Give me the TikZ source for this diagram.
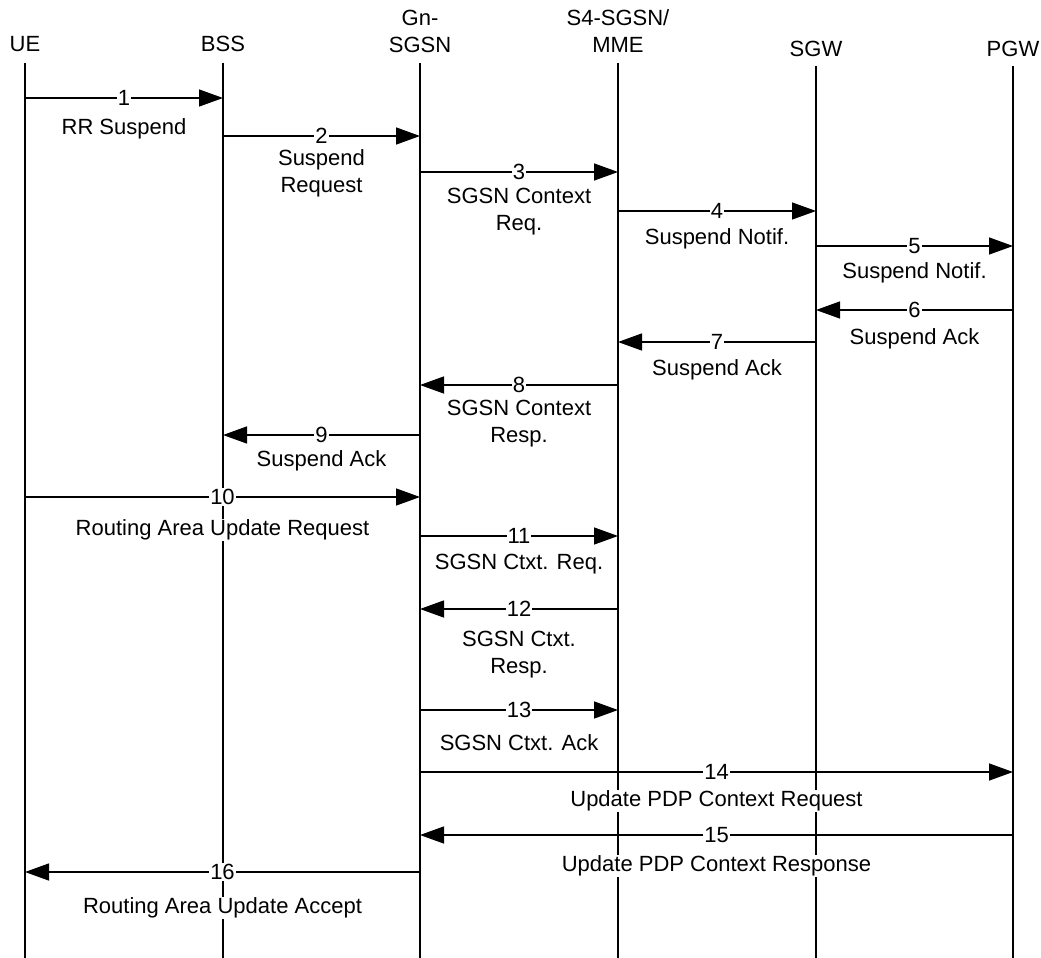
\documentclass[tikz,border=0pt]{standalone}
\usepackage{fontspec}
\setmainfont{Liberation Sans}
\usetikzlibrary{arrows.meta,calc}
\newcommand\sqmsg[6]{%
  \draw[msgline] (#1 |- 0,#3) -- (#2 |- 0,#3) node[midway,numlbl]{#4};
  \path let \p1=($(#1)!.5!(#2)$) in node[msglbl] at (\x1,-#5pt) {#6};
}
\begin{document}
\begin{tikzpicture}[x=1pt,y=-1pt,
  every node/.style={font=\fontsize{22}{27}\selectfont},
  lifeline/.style={line width=1.4pt},
  msgline/.style={line width=1.4pt,-{Triangle[length=24pt,width=17pt]}},
  numlbl/.style={fill=white,inner sep=1pt},
  msglbl/.style={fill=white,inner sep=1pt,align=center},
  headlbl/.style={align=center,inner sep=0pt}]
\useasboundingbox (0,0) rectangle (1041,958);

% heads
\node[headlbl] (hUE)  at (25,44)  {UE};
\node[headlbl] (hBSS) at (223,44) {BSS};
\node[headlbl] (hGN)  at (420,31) {Gn-\\SGSN};
\node[headlbl] (hS4)  at (618,31) {S4-SGSN/\\MME};
\node[headlbl] (hSGW) at (816,49) {SGW};
\node[headlbl] (hPGW) at (1013,49) {PGW};

% lifeline tops
\coordinate (UE)  at (25,63);
\coordinate (BSS) at (223,63);
\coordinate (GN)  at (420,63);
\coordinate (S4)  at (618,63);
\coordinate (SGW) at (816,66);
\coordinate (PGW) at (1013,66);
\foreach \l in {UE,BSS,GN,S4,SGW,PGW}
  \draw[lifeline] (\l) -- (\l |- 0,958);

\sqmsg{UE}{BSS}{98}{1}{129}{RR Suspend}
\sqmsg{BSS}{GN}{136}{2}{173.5}{Suspend\\Request}
\sqmsg{GN}{S4}{172}{3}{212}{SGSN Context\\Req.}
\sqmsg{S4}{SGW}{211}{4}{239}{Suspend Notif.}
\sqmsg{SGW}{PGW}{246}{5}{273}{Suspend Notif.}
\sqmsg{PGW}{SGW}{310}{6}{339}{Suspend Ack}
\sqmsg{SGW}{S4}{342}{7}{370}{Suspend Ack}
\sqmsg{S4}{GN}{385}{8}{424}{SGSN Context\\Resp.}
\sqmsg{GN}{BSS}{435}{9}{461}{Suspend Ack}
\sqmsg{UE}{GN}{497}{10}{530}{Routing Area Update Request}
\sqmsg{GN}{S4}{536}{11}{564}{SGSN Ctxt. Req.}
\sqmsg{S4}{GN}{609}{12}{655}{SGSN Ctxt.\\Resp.}
\sqmsg{GN}{S4}{710}{13}{743}{SGSN Ctxt. Ack}
\sqmsg{GN}{PGW}{772}{14}{801}{Update PDP Context Request}
\sqmsg{PGW}{GN}{835}{15}{866}{Update PDP Context Response}
\sqmsg{GN}{UE}{872}{16}{908}{Routing Area Update Accept}
\end{tikzpicture}
\end{document}
